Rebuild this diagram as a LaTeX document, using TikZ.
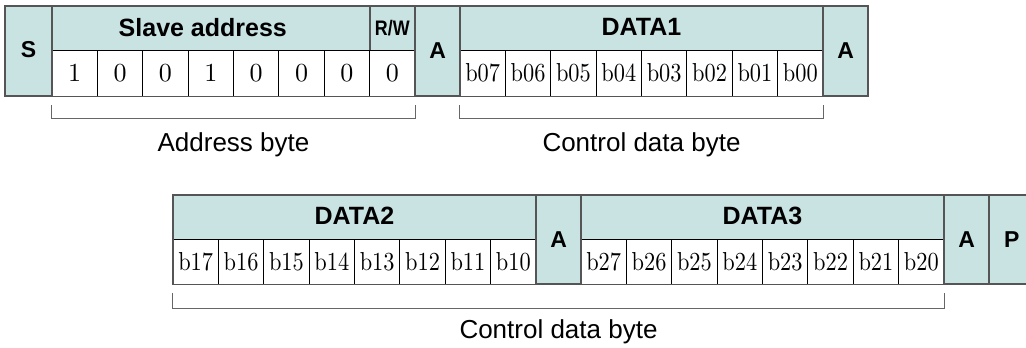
\documentclass[tikz,border=0pt]{standalone}
\usepackage{fontspec}
\newfontfamily\sansf{Liberation Sans}
\newfontfamily\lmten{lmroman10-regular}[Extension=.otf]
\definecolor{hdrfill}{HTML}{C9E2E2}
\definecolor{edge}{HTML}{555555}
\definecolor{brkcol}{HTML}{666666}
\begin{document}
\begin{tikzpicture}[x=1pt,y=-1pt,
  hdr/.style={fill=hdrfill,draw=none,inner sep=0pt,minimum height=44pt,
    font=\sansf\bfseries\fontsize{25}{25}\selectfont},
  bitcell/.style={fill=white,draw=black,line width=0.9pt,inner sep=0pt,
    minimum width=45.375pt,minimum height=46pt,font=\lmten\fontsize{26}{26}\selectfont},
  sig/.style={fill=hdrfill,draw=edge,line width=1.8pt,inner sep=0pt,
    minimum width=45.375pt,font=\sansf\bfseries\fontsize{23}{23}\selectfont},
  outline/.style={draw=edge,line width=1.8pt},
  brk/.style={draw=brkcol,line width=1.3pt},
  lbl/.style={font=\sansf\fontsize{26}{26}\selectfont,inner sep=0pt}]
\useasboundingbox (0,0) rectangle (1026,348);
\newcommand{\bl}[1]{\scalebox{0.86}[1]{#1}}
% ---------- top row ----------
\node[sig,minimum width=47pt,minimum height=90pt] (S) at (28.5,51) {\raisebox{3pt}{S}};
\node[hdr,minimum width=317.625pt] (SA) at ({52+317.625/2},28) {\raisebox{2pt}{Slave address\hspace*{16pt}}};
\node[hdr,minimum width=45.375pt] (RW) at ({52+7.5*45.375},28)
  {\sansf\fontsize{21}{21}\selectfont\scalebox{0.85}[1]{R/W}};
\foreach \i/\t in {1/1,2/0,3/0,4/1,5/0,6/0,7/0,8/0}
  \node[bitcell] (ab\i) at ({52+45.375*(\i-0.5)},73) {\t};
\draw[outline] (SA.north east) -- (SA.south east);
\draw[outline] (SA.north west) rectangle (ab8.south east);
\node[sig,minimum height=90pt] (A1) at ({415+45.375/2},51) {A};
\node[hdr,minimum width=363pt] (D1) at ({460+181.5},28) {\raisebox{2pt}{DATA1}};
\foreach \i in {0,...,7}{
  \pgfmathtruncatemacro{\k}{7-\i}
  \node[bitcell] (da\i) at ({460+45.375*(\i+0.5)},73) {\bl{b0\k}};}
\draw[outline] (D1.north west) rectangle (da7.south east);
\node[sig,minimum height=90pt] (A2) at ({823+45.375/2},51) {A};
% ---------- bottom row ----------
\node[hdr,minimum width=363pt] (D2) at ({173+181.5},217) {\raisebox{2pt}{DATA2}};
\foreach \i in {0,...,7}{
  \pgfmathtruncatemacro{\k}{7-\i}
  \node[bitcell,minimum height=45pt] (db\i) at ({173+45.375*(\i+0.5)},261.5) {\bl{b1\k}};}
\draw[outline] (D2.north west) rectangle (db7.south east);
\node[sig,minimum height=89pt] (A3) at ({536+45.375/2},239.5) {A};
\node[hdr,minimum width=363pt] (D3) at ({581+181.5},217) {\raisebox{2pt}{DATA3}};
\foreach \i in {0,...,7}{
  \pgfmathtruncatemacro{\k}{7-\i}
  \node[bitcell,minimum height=45pt] (dc\i) at ({581+45.375*(\i+0.5)},261.5) {\bl{b2\k}};}
\draw[outline] (D3.north west) rectangle (dc7.south east);
\node[sig,minimum height=89pt] (A4) at ({944+45.375/2},239.5) {A};
\node[sig,minimum height=89pt] (P) at ({989+45.375/2},239.5) {P};
% ---------- brackets ----------
\draw[brk] ([yshift=-9pt]ab1.south west) -- ++(0,13) -| ([yshift=-9pt]ab8.south east);
\draw[brk] ([yshift=-9pt]da0.south west) -- ++(0,13) -| ([yshift=-9pt]da7.south east);
\draw[brk] ([yshift=-9pt]db0.south west) -- ++(0,15) -| ([yshift=-9pt]dc7.south east);
\node[lbl] (L1) at (233.5,145) {Address byte};
\node[lbl] (L2) at (641.5,145) {Control data byte};
\node[lbl] (L3) at (558.5,332) {Control data byte};
\end{tikzpicture}
\end{document}
